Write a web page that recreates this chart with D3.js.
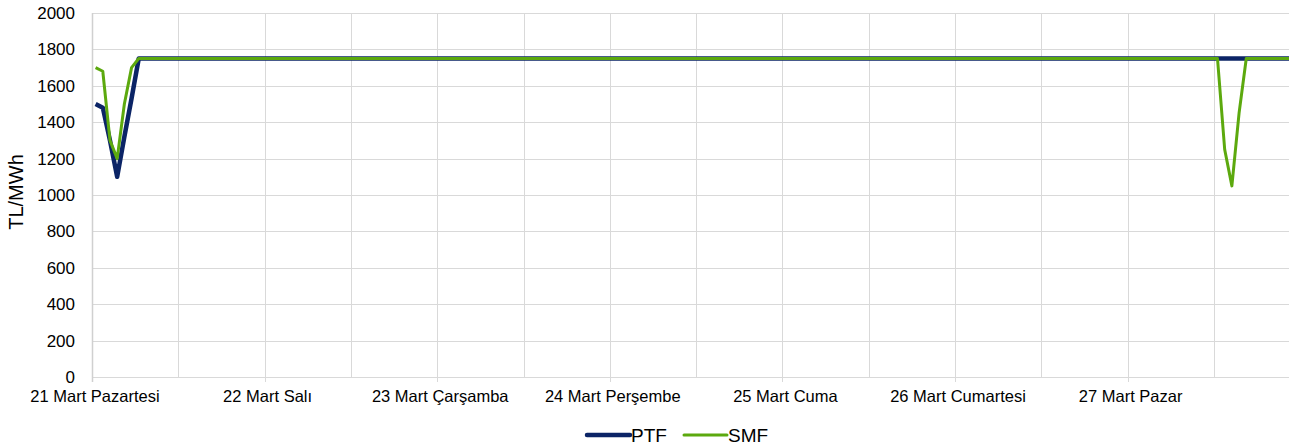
<!DOCTYPE html>
<html>
<head>
<meta charset="utf-8">
<script src="https://cdn.jsdelivr.net/npm/d3@7"></script>
<style>
  body { margin: 0; background: #fff; }
  svg { display: block; font-family: 'Liberation Sans', Arial, sans-serif; }
</style>
</head>
<body>
<svg id="chart" width="1289" height="445"></svg>
<script>
// day labels (one per 24 hours)
const dayLabels = [
  '21 Mart Pazartesi', '22 Mart Salı', '23 Mart Çarşamba', '24 Mart Perşembe',
  '25 Mart Cuma', '26 Mart Cumartesi', '27 Mart Pazar'
];

const yTicks = [0, 200, 400, 600, 800, 1000, 1200, 1400, 1600, 1800, 2000];

// hourly PTF, TL/MWh (7 days x 24 h)
const ptf = [
  1500, 1480, 1300, 1100, 1320, 1530, 1750, 1750, 1750, 1750, 1750, 1750, 1750, 1750, 1750, 1750, 1750, 1750, 1750, 1750, 1750, 1750, 1750, 1750,
  1750, 1750, 1750, 1750, 1750, 1750, 1750, 1750, 1750, 1750, 1750, 1750, 1750, 1750, 1750, 1750, 1750, 1750, 1750, 1750, 1750, 1750, 1750, 1750,
  1750, 1750, 1750, 1750, 1750, 1750, 1750, 1750, 1750, 1750, 1750, 1750, 1750, 1750, 1750, 1750, 1750, 1750, 1750, 1750, 1750, 1750, 1750, 1750,
  1750, 1750, 1750, 1750, 1750, 1750, 1750, 1750, 1750, 1750, 1750, 1750, 1750, 1750, 1750, 1750, 1750, 1750, 1750, 1750, 1750, 1750, 1750, 1750,
  1750, 1750, 1750, 1750, 1750, 1750, 1750, 1750, 1750, 1750, 1750, 1750, 1750, 1750, 1750, 1750, 1750, 1750, 1750, 1750, 1750, 1750, 1750, 1750,
  1750, 1750, 1750, 1750, 1750, 1750, 1750, 1750, 1750, 1750, 1750, 1750, 1750, 1750, 1750, 1750, 1750, 1750, 1750, 1750, 1750, 1750, 1750, 1750,
  1750, 1750, 1750, 1750, 1750, 1750, 1750, 1750, 1750, 1750, 1750, 1750, 1750, 1750, 1750, 1750, 1750, 1750, 1750, 1750, 1750, 1750, 1750, 1750
];

// hourly SMF, TL/MWh
const smf = [
  1700, 1680, 1300, 1200, 1500, 1700, 1750, 1750, 1750, 1750, 1750, 1750, 1750, 1750, 1750, 1750, 1750, 1750, 1750, 1750, 1750, 1750, 1750, 1750,
  1750, 1750, 1750, 1750, 1750, 1750, 1750, 1750, 1750, 1750, 1750, 1750, 1750, 1750, 1750, 1750, 1750, 1750, 1750, 1750, 1750, 1750, 1750, 1750,
  1750, 1750, 1750, 1750, 1750, 1750, 1750, 1750, 1750, 1750, 1750, 1750, 1750, 1750, 1750, 1750, 1750, 1750, 1750, 1750, 1750, 1750, 1750, 1750,
  1750, 1750, 1750, 1750, 1750, 1750, 1750, 1750, 1750, 1750, 1750, 1750, 1750, 1750, 1750, 1750, 1750, 1750, 1750, 1750, 1750, 1750, 1750, 1750,
  1750, 1750, 1750, 1750, 1750, 1750, 1750, 1750, 1750, 1750, 1750, 1750, 1750, 1750, 1750, 1750, 1750, 1750, 1750, 1750, 1750, 1750, 1750, 1750,
  1750, 1750, 1750, 1750, 1750, 1750, 1750, 1750, 1750, 1750, 1750, 1750, 1750, 1750, 1750, 1750, 1750, 1750, 1750, 1750, 1750, 1750, 1750, 1750,
  1750, 1750, 1750, 1750, 1750, 1750, 1750, 1750, 1750, 1750, 1750, 1750, 1750, 1250, 1050, 1450, 1750, 1750, 1750, 1750, 1750, 1750, 1750, 1750
];

const series = [
  { name: 'PTF', values: ptf, color: '#0b2466', width: 4.5 },
  { name: 'SMF', values: smf, color: '#5ca90e', width: 3 }
];

const svg = d3.select('#chart'),
  plotLeft = 92,
  plotTop = 13,
  plotBottom = 377,
  dayWidth = 172.6,
  hours = ptf.length,
  gridColor = '#d9d9d9',
  x = d3.scaleLinear().domain([0, hours]).range([plotLeft, plotLeft + dayWidth * 7]),
  y = d3.scaleLinear().domain([0, 2000]).range([plotBottom, plotTop]);

// horizontal gridlines
svg.append('g')
  .selectAll('line')
  .data(yTicks)
  .join('line')
  .attr('x1', plotLeft)
  .attr('x2', 1289)
  .attr('y1', d => Math.round(y(d)) + 0.5)
  .attr('y2', d => Math.round(y(d)) + 0.5)
  .attr('stroke', gridColor)
  .attr('stroke-width', 1);

// vertical gridlines every 12 hours
const halfDays = d3.range(0, hours + 1, 12);
svg.append('g')
  .selectAll('line')
  .data(halfDays)
  .join('line')
  .attr('x1', d => Math.round(x(d)) + 0.5)
  .attr('x2', d => Math.round(x(d)) + 0.5)
  .attr('y1', plotTop)
  .attr('y2', d => (d % 24 === 0 ? plotBottom + 5 : plotBottom))
  .attr('stroke', d => (d === 0 ? '#d0d0d0' : gridColor))
  .attr('stroke-width', d => (d === 0 ? 1.5 : 1));

// y tick labels
svg.append('g')
  .selectAll('text')
  .data(yTicks)
  .join('text')
  .attr('x', 75)
  .attr('y', d => y(d))
  .attr('dy', '0.35em')
  .attr('text-anchor', 'end')
  .style('font-size', '17px')
  .style('fill', '#000')
  .text(d => d);

// x (day) labels
svg.append('g')
  .selectAll('text')
  .data(dayLabels)
  .join('text')
  .attr('x', (d, i) => x(i * 24) + 3)
  .attr('y', 402)
  .attr('text-anchor', 'middle')
  .style('font-size', '16.5px')
  .style('fill', '#000')
  .text(d => d);

// y axis title
svg.append('text')
  .attr('transform', 'translate(23,192) rotate(-90)')
  .attr('text-anchor', 'middle')
  .style('font-size', '20px')
  .style('fill', '#000')
  .text('TL/MWh');

// lines
const line = d3.line()
  .x((d, i) => x(i + 0.5))
  .y(d => y(d));

svg.append('g')
  .selectAll('path')
  .data(series)
  .join('path')
  .attr('d', d => line(d.values))
  .attr('fill', 'none')
  .attr('stroke', d => d.color)
  .attr('stroke-width', d => d.width)
  .attr('stroke-linejoin', 'round');

// legend
const legend = svg.append('g').attr('transform', 'translate(587,435)');
const items = legend.selectAll('g')
  .data(series)
  .join('g')
  .attr('transform', (d, i) => `translate(${i * 97},0)`);

items.append('line')
  .attr('x1', 0)
  .attr('x2', 43)
  .attr('stroke', d => d.color)
  .attr('stroke-width', d => d.width)
  .attr('stroke-linecap', 'round');

items.append('text')
  .attr('x', 44)
  .attr('dy', '0.36em')
  .style('font-size', '19px')
  .style('fill', '#000')
  .text(d => d.name);
</script>
</body>
</html>
